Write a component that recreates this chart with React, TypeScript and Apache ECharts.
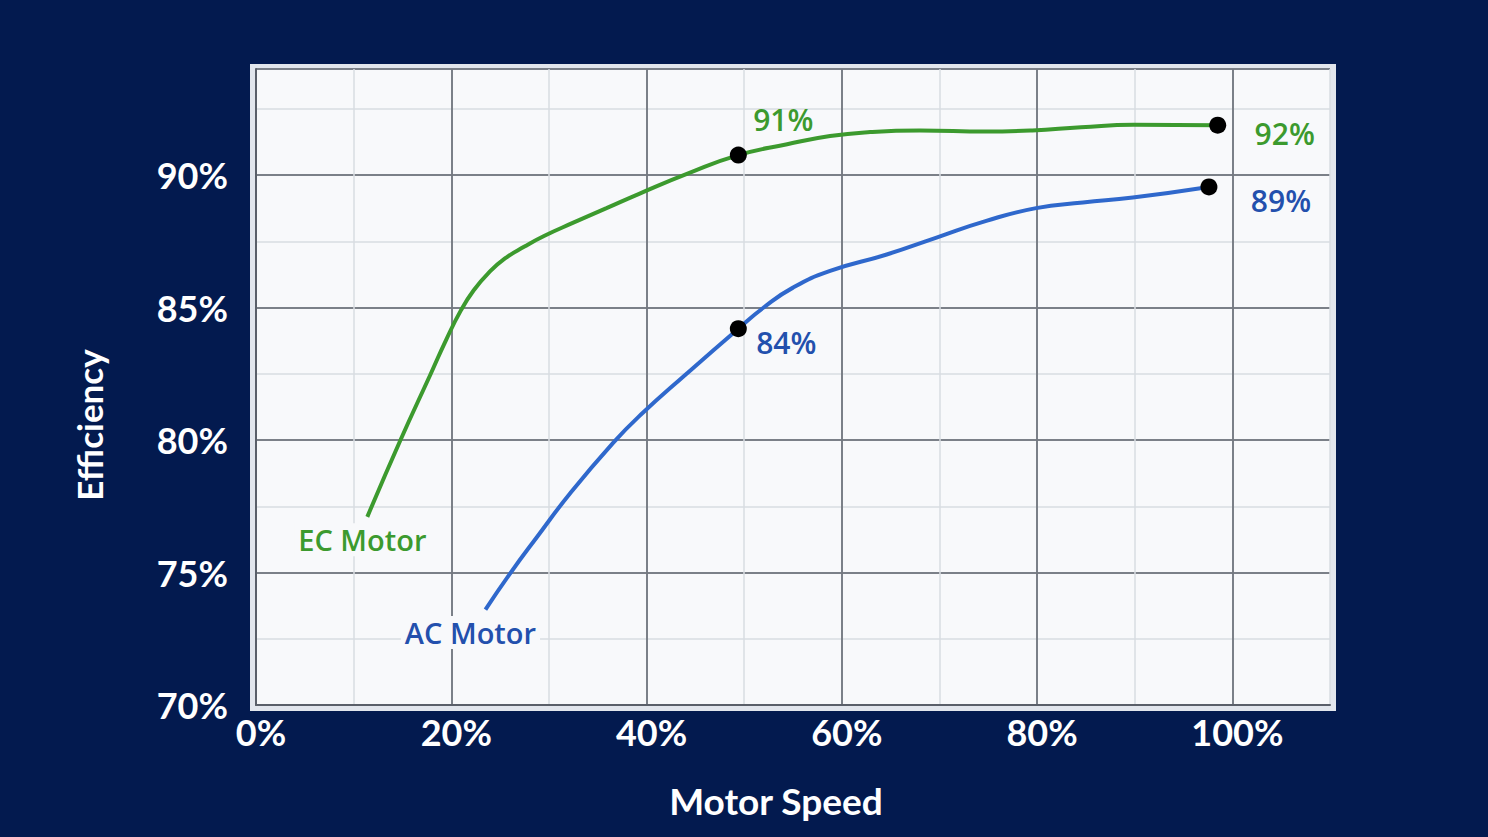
import React, { useRef, useEffect } from 'react';
import * as echarts from 'echarts';

// motor speed (%) / efficiency (%)
const ecSpeed = [11.4, 14.8, 17.9, 19.5, 21.0, 22.3, 23.8, 25.5, 27.5, 29.5, 32.5, 35.9, 39.3, 44.2, 49.4, 54.4, 58.8, 62.9, 68.0, 74.8, 79.5, 84.5, 89.9, 98.5];
const ecEff = [77.1, 80.0, 82.5, 83.8, 84.9, 85.65, 86.3, 86.85, 87.3, 87.7, 88.2, 88.75, 89.3, 90.05, 90.75, 91.16, 91.47, 91.62, 91.68, 91.64, 91.68, 91.8, 91.9, 91.88];
const acSpeed = [23.5, 26.0, 28.8, 32.2, 36.6, 39.4, 44.1, 49.4, 52.0, 55.0, 58.8, 64.6, 69.7, 74.8, 79.9, 84.7, 89.8, 97.6];
const acEff = [73.6, 74.95, 76.35, 78.0, 79.9, 80.95, 82.5, 84.2, 85.0, 85.75, 86.38, 87.0, 87.64, 88.27, 88.75, 88.96, 89.15, 89.55];

// highlighted points: index in the series -> callout text
const ecCallouts: Record<number, string> = { 14: '91%', 23: '92%' };
const acCallouts: Record<number, string> = { 7: '84%', 17: '89%' };

const seriesNames = ['EC Motor', 'AC Motor'];
const xTitle = 'Motor Speed';
const yTitle = 'Efficiency';

const NAVY = '#031a4f';
const PLOT_BG = '#f8f9fb';
const GREEN = '#3c9a2e';
const BLUE = '#2f68cc';
const BLUE_TEXT = '#2350ad';

const buildData = (
  xs: number[],
  ys: number[],
  callouts: Record<number, string>,
  name: string,
  textColor: string,
  nameOffset: number[],
  calloutOffsets: number[][],
) => {
  const keys = Object.keys(callouts).map(Number);
  return xs.map((x, i) => {
    if (i === 0) {
      return {
        value: [x, ys[i]],
        label: {
          show: true,
          position: 'inside',
          offset: nameOffset,
          formatter: name,
          color: textColor,
          fontFamily: 'Open Sans',
          fontWeight: 600,
          fontSize: 29,
          backgroundColor: PLOT_BG,
          padding: [2, 4],
        },
      };
    }
    if (callouts[i]) {
      return {
        value: [x, ys[i]],
        symbolSize: 17,
        itemStyle: { color: '#000' },
        label: {
          show: true,
          position: 'inside',
          offset: calloutOffsets[keys.indexOf(i)],
          formatter: callouts[i],
          color: textColor,
          fontFamily: 'Open Sans',
          fontWeight: 600,
          fontSize: 30,
        },
      };
    }
    return { value: [x, ys[i]] };
  });
};

const App: React.FC = () => {
  const chartRef = useRef<HTMLDivElement>(null);

  useEffect(() => {
    document.body.style.margin = '0';
    if (!chartRef.current) return;
    const chart = echarts.init(chartRef.current, null, { renderer: 'svg' });

    const tickFont = { color: '#fff', fontFamily: 'Lato', fontWeight: 700, fontSize: 36 };
    const minorLine = { show: true, lineStyle: { color: '#d9dce2', width: 1.5 } };
    const majorLine = { show: true, lineStyle: { color: '#5a5f69', width: 1.5 } };

    const option: echarts.EChartsOption = {
      animation: false,
      backgroundColor: NAVY,
      grid: {
        left: 256,
        right: 158,
        top: 69,
        bottom: 132,
        show: true,
        backgroundColor: PLOT_BG,
        borderWidth: 0,
      },
      graphic: [
        {
          type: 'rect',
          z: -1,
          shape: { x: 250, y: 64, width: 1086, height: 647 },
          style: { fill: '#e2e6ed' },
        },
        {
          type: 'text',
          x: 89,
          y: 425,
          rotation: Math.PI / 2,
          style: {
            text: yTitle,
            fill: '#fff',
            font: '700 35px Lato',
            align: 'center',
            verticalAlign: 'middle',
          },
        },
        {
          type: 'text',
          x: 776,
          y: 800,
          style: {
            text: xTitle,
            fill: '#fff',
            font: '700 37px Lato',
            align: 'center',
            verticalAlign: 'middle',
          },
        },
      ],
      xAxis: [
        {
          type: 'value',
          position: 'top',
          min: 0,
          max: 110,
          interval: 10,
          axisLine: { show: false },
          axisTick: { show: false },
          axisLabel: { show: false },
          splitLine: minorLine,
        },
        {
          type: 'value',
          position: 'bottom',
          min: 0,
          max: 110,
          interval: 20,
          axisLine: { show: true, lineStyle: { color: '#5a5f69', width: 2 } },
          axisTick: { show: false },
          axisLabel: {
            ...tickFont,
            margin: 9,
            padding: [0, 0, 0, 10],
            showMaxLabel: false,
            formatter: (v: number) => (v <= 100 ? `${v}%` : ''),
          },
          splitLine: { ...majorLine, showMaxLine: false },
        },
      ],
      yAxis: [
        {
          type: 'value',
          position: 'right',
          min: 70,
          max: 94,
          interval: 2.5,
          axisLine: { show: false },
          axisTick: { show: false },
          axisLabel: { show: false },
          splitLine: minorLine,
        },
        {
          type: 'value',
          position: 'left',
          min: 70,
          max: 94,
          interval: 5,
          axisLine: { show: true, lineStyle: { color: '#5a5f69', width: 2 } },
          axisTick: { show: false },
          axisLabel: {
            ...tickFont,
            margin: 28,
            showMaxLabel: false,
            formatter: (v: number) => (v <= 90 ? `${v}%` : ''),
          },
          splitLine: majorLine,
        },
      ],
      series: [
        {
          name: seriesNames[0],
          type: 'line',
          xAxisIndex: 1,
          yAxisIndex: 1,
          smooth: 0.5,
          symbol: 'circle',
          symbolSize: 0,
          showSymbol: true,
          lineStyle: { color: GREEN, width: 4 },
          itemStyle: { color: GREEN },
          emphasis: { disabled: true },
          z: 3,
          data: buildData(ecSpeed, ecEff, ecCallouts, seriesNames[0], GREEN, [-5, 23], [
            [45, -36],
            [67, 8],
          ]),
        },
        {
          name: seriesNames[1],
          type: 'line',
          xAxisIndex: 1,
          yAxisIndex: 1,
          smooth: 0.5,
          symbol: 'circle',
          symbolSize: 0,
          showSymbol: true,
          lineStyle: { color: BLUE, width: 4 },
          itemStyle: { color: BLUE },
          emphasis: { disabled: true },
          z: 2,
          data: buildData(acSpeed, acEff, acCallouts, seriesNames[1], BLUE_TEXT, [-15, 23], [
            [48, 14],
            [72, 14],
          ]),
        },
      ],
    };

    chart.setOption(option);

    const handleResize = () => chart.resize();
    window.addEventListener('resize', handleResize);

    return () => {
      window.removeEventListener('resize', handleResize);
      chart.dispose();
    };
  }, []);

  return <div ref={chartRef} style={{ width: 1488, height: 837 }} />;
};

export default App;
